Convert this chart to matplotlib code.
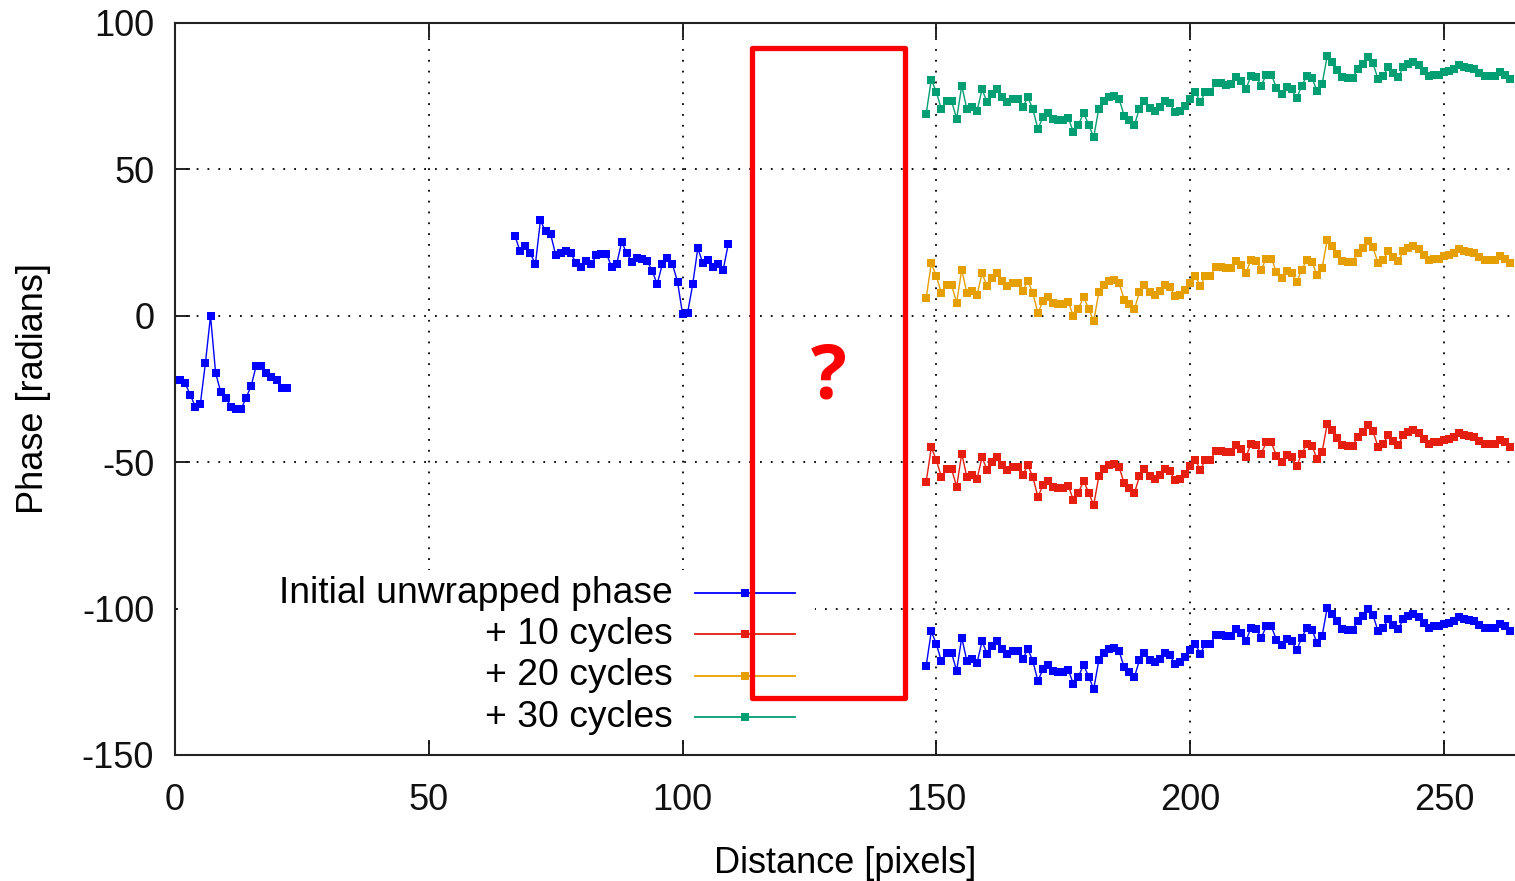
import numpy as np
import matplotlib.pyplot as plt
from matplotlib.patches import Rectangle

# phase values, one sample per pixel
x_a = np.arange(0, 23)
phase_a = [-22, -22, -23, -27, -31, -30, -16, 0, -19.5, -26, -28, -31, -32, -32,
           -28, -24, -17, -17, -19.5, -21, -22, -24.5, -24.5]

x_b = np.arange(67, 110)
phase_b = [27.1, 22, 23.9, 21.4, 17.6, 32.6, 28.8, 27.9, 20.8, 21.4, 22, 21.4, 18,
           16.8, 18.8, 17.6, 20.6, 21.2, 21.2, 16.8, 17.6, 25.2, 21.4, 18.5, 19.9,
           19.4, 18.8, 15.4, 10.8, 17.6, 19.9, 17.6, 11.7, 0.6, 1.1, 10.8, 23.1,
           18, 19.1, 16.8, 17.6, 15.7, 24.5]

x_c = np.arange(148, 264)
phase_c = [-119.5, -107.8, -112.1, -118, -115, -115.2, -121.2, -109.9, -117.8, -117.3,
           -118.6, -111.2, -115.5, -112.7, -111.2, -113.8, -115.5, -114.6, -114.6, -117.3,
           -113.8, -117.8, -124.7, -120.7, -119.2, -121.2, -121.5, -121.5, -120.9, -125.8,
           -123.2, -119.2, -123.2, -127.5, -117.7, -115.2, -113.8, -113.3, -114.4, -120.1,
           -121.5, -123.5, -117.7, -115, -117.5, -118.4, -117.3, -115.2, -115.8, -119,
           -118.4, -116.7, -114.3, -112, -115.5, -112, -112, -109, -109, -109.5,
           -109.2, -107, -108.4, -111, -106.5, -107, -109.9, -106.1, -106.1, -110.7,
           -112.6, -110.4, -111.2, -114.1, -109.9, -106.5, -107.2, -111.8, -109.3, -99.8,
           -101.9, -104.4, -107, -107.2, -107.2, -104.2, -102.5, -100.1, -102.1, -107.6,
           -106.7, -103.6, -105.5, -107, -103.6, -102.5, -101.9, -103, -105, -106.5,
           -106.1, -106.1, -105.3, -105, -104.2, -103, -103.5, -103.8, -104.2, -105.5,
           -106.7, -106.7, -106.7, -105.3, -106.1, -107.6]

cycles = [10, 20, 30]
labels = ['Initial unwrapped phase', '+ 10 cycles', '+ 20 cycles', '+ 30 cycles']
colors = ['#0000ff', '#e51e10', '#e69f00', '#009e73']

# red "unknown gap" box (data units)
box_x0, box_x1 = 113.7, 143.8
box_y0, box_y1 = -130.5, 91.5

plt.rcParams['font.family'] = ['Liberation Sans', 'DejaVu Sans']
plt.rcParams['axes.unicode_minus'] = False
fs = 26

fig = plt.figure(figsize=(15.15, 8.81), dpi=100)
ax = fig.add_axes([175/1515, 1-755/881, 1-175/1515, (755-23)/881])

mk = dict(marker='s', markersize=5.8, lw=1, markeredgewidth=0)
lines = []
for xs, ys in [(x_a, phase_a), (x_b, phase_b), (x_c, phase_c)]:
    l, = ax.plot(xs, ys, color=colors[0], **mk)
lines.append(l)
for c, col in zip(cycles, colors[1:]):
    l, = ax.plot(x_c, np.array(phase_c) + 2*np.pi*c, color=col, **mk)
    lines.append(l)

ax.set_xlim(0, 264)
ax.set_ylim(-150, 100)
ax.set_xticks(range(0, 251, 50))
ax.set_yticks(range(-150, 101, 50))
ax.grid(True, color='black', linestyle=(0, (1, 5)), linewidth=1.3)
ax.tick_params(direction='in', length=11, width=1.3, labelsize=fs, top=True,
               colors='#111111')
ax.tick_params(axis='y', pad=15)
ax.tick_params(axis='x', pad=20)
for s in ['left', 'bottom', 'top']:
    ax.spines[s].set_linewidth(1.5)
    ax.spines[s].set_color('#222222')
ax.spines['right'].set_visible(False)

ax.set_xlabel('Distance [pixels]', fontsize=fs, labelpad=20)
ax.set_ylabel('Phase [radians]', fontsize=fs, labelpad=22)

# gnuplot-style key: right-aligned text, sample line to the right, white background
key_bg = Rectangle((0.002, 0.0205), 0.4756, 0.2322, transform=ax.transAxes,
                   facecolor='white', edgecolor='none', zorder=5)
ax.add_patch(key_bg)
key_top, key_step = 0.2213, 0.0565
for i, (lab, col) in enumerate(zip(labels, colors)):
    yk = key_top - i * key_step
    ax.text(0.3716, yk, lab, transform=ax.transAxes, ha='right', va='center',
            fontsize=26.8, zorder=5.5)
    ax.plot([0.3881, 0.4627], [yk, yk], color=col, lw=1.3, transform=ax.transAxes,
            clip_on=False, zorder=5.5)
    ax.plot([0.4254], [yk], color=col, marker='s', markersize=6, markeredgewidth=0,
            transform=ax.transAxes, clip_on=False, zorder=5.5)

rect = Rectangle((box_x0, box_y0), box_x1 - box_x0, box_y1 - box_y0, fill=False,
                 edgecolor='#ff0000', linewidth=3.8, joinstyle='round', zorder=6)
ax.add_patch(rect)
ax.text((box_x0 + box_x1) / 2, -21.5, '?', color='#ff0000', fontsize=54,
        fontweight='bold', family='Open Sans', ha='center', va='center', zorder=7)

fig.savefig('out.png', dpi=100)
